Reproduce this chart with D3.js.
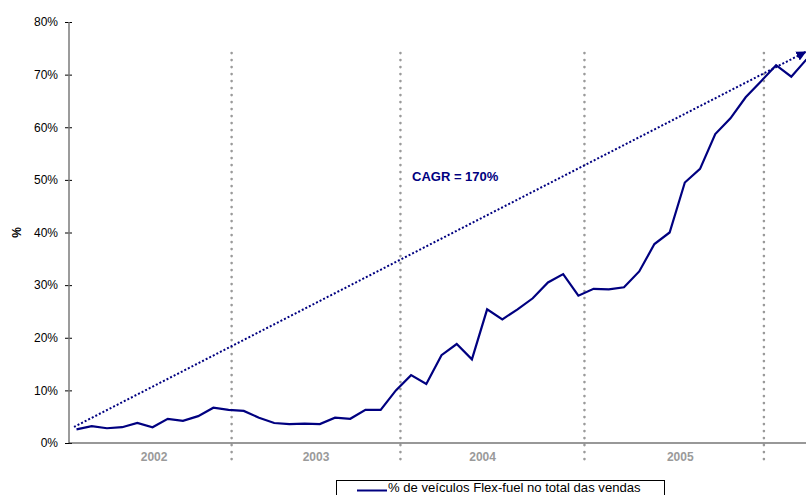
<!DOCTYPE html>
<html>
<head>
<meta charset="utf-8">
<script src="https://cdn.jsdelivr.net/npm/d3@7"></script>
<style>
  body { margin: 0; background: #fff; }
  svg { display: block; font-family: Arial, "Liberation Sans", sans-serif; }
</style>
</head>
<body>
<svg id="chart-svg"></svg>
<script>
// monthly share of flex-fuel vehicles in total sales (%), 2002 -> 2005
const flexShare = [
    2.6, 3.2, 2.8, 3.0, 3.8, 3.0, 4.6, 4.2, 5.1, 6.7,
    6.3, 6.1, 4.8, 3.8, 3.6, 3.7, 3.6, 4.8, 4.6, 6.3,
    6.3, 10.0, 12.9, 11.2, 16.7, 18.8, 15.9, 25.4, 23.5, 25.4,
    27.5, 30.5, 32.1, 28.0, 29.3, 29.2, 29.6, 32.6, 37.8, 40.0,
    49.5, 52.1, 58.7, 61.7, 65.7, 68.7, 71.8, 69.6, 72.9
];
const trendShare = [3.3, 74.3];
const yTicks = [0, 10, 20, 30, 40, 50, 60, 70, 80];
const yearLabels = ['2002', '2003', '2004', '2005'];
const yearLabelAt = [5.1, 15.75, 26.7, 39.7];      // month index of label centre
const yearDividerAt = [10.2, 21.3, 33.4, 45.2];    // month index of dotted dividers
const cagrLabel = 'CAGR = 170%';
const legendLabel = '% de veículos Flex-fuel no total das vendas';

const width = 806, height = 495;
const navy = '#000080';

const svg = d3.select('#chart-svg')
    .attr('width', width)
    .attr('height', height);

const x = d3.scaleLinear().domain([0, flexShare.length - 1]).range([76.5, 806.5]);
const y = d3.scaleLinear().domain([0, 80]).range([443, 22]);
const axisLeft = 69;

svg.append('defs').append('marker')
    .attr('id', 'arrow')
    .attr('viewBox', '0 0 10 10')
    .attr('refX', 9).attr('refY', 5)
    .attr('markerWidth', 5).attr('markerHeight', 5)
    .attr('markerUnits', 'strokeWidth')
    .attr('orient', 'auto')
    .append('path')
    .attr('d', 'M0,0 L10,5 L0,10 z')
    .attr('fill', navy);

// dotted year dividers
svg.append('g')
    .selectAll('line')
    .data(yearDividerAt)
    .join('line')
    .attr('x1', d => x(d)).attr('x2', d => x(d))
    .attr('y1', 53).attr('y2', 465)
    .attr('stroke', '#9a9a9a')
    .attr('stroke-width', 2.6)
    .attr('stroke-linecap', 'round')
    .attr('stroke-dasharray', '0.1,6.9');

// y axis
const yAxis = svg.append('g')
    .attr('transform', `translate(${axisLeft},0)`)
    .call(d3.axisLeft(y).tickValues(yTicks).tickFormat(d => `${d}%`).tickSize(4).tickPadding(7));
yAxis.select('.domain').remove();
yAxis.append('line')
    .attr('x1', 0).attr('x2', 0)
    .attr('y1', y(80)).attr('y2', y(0))
    .attr('stroke', '#7a7a7a').attr('stroke-width', 1.5);
yAxis.selectAll('.tick line').attr('x2', -4).attr('x1', 3).attr('stroke', '#000');
yAxis.selectAll('.tick text')
    .attr('font-size', 12)
    .attr('fill', '#000')
    .attr('font-family', 'Arial, "Liberation Sans", sans-serif');

svg.append('text')
    .attr('transform', `translate(21,${y(40)}) rotate(-90)`)
    .attr('text-anchor', 'middle')
    .attr('font-size', 12)
    .attr('font-weight', 'bold')
    .text('%');

// x axis baseline
svg.append('line')
    .attr('x1', axisLeft).attr('x2', width)
    .attr('y1', y(0)).attr('y2', y(0))
    .attr('stroke', '#333').attr('stroke-width', 1.2);

svg.append('g')
    .selectAll('text')
    .data(yearLabels)
    .join('text')
    .attr('x', (d, i) => x(yearLabelAt[i]))
    .attr('y', 461)
    .attr('text-anchor', 'middle')
    .attr('font-size', 12)
    .attr('font-weight', 'bold')
    .attr('fill', '#9a9a9a')
    .text(d => d);

// trend line with arrow
svg.append('line')
    .attr('x1', x(0) - 2.5).attr('y1', y(trendShare[0]) + 1.3)
    .attr('x2', x(flexShare.length - 1) - 1).attr('y2', y(trendShare[1]))
    .attr('stroke', navy)
    .attr('stroke-width', 2)
    .attr('stroke-dasharray', '2,2')
    .attr('marker-end', 'url(#arrow)');

// main series
const line = d3.line()
    .x((d, i) => x(i))
    .y(d => y(d));

svg.append('path')
    .datum(flexShare)
    .attr('d', line)
    .attr('fill', 'none')
    .attr('stroke', navy)
    .attr('stroke-width', 2.2)
    .attr('stroke-linejoin', 'miter');

svg.append('text')
    .attr('x', 412).attr('y', 180.5)
    .attr('font-size', 13)
    .attr('font-weight', 'bold')
    .attr('fill', navy)
    .text(cagrLabel);

// legend
const legend = svg.append('g');
legend.append('rect')
    .attr('x', 336.5).attr('y', 480.5)
    .attr('width', 328).attr('height', 22)
    .attr('fill', '#fff')
    .attr('stroke', '#000').attr('stroke-width', 1);
legend.append('line')
    .attr('x1', 357).attr('x2', 387)
    .attr('y1', 490.5).attr('y2', 490.5)
    .attr('stroke', navy).attr('stroke-width', 2);
legend.append('text')
    .attr('x', 388).attr('y', 492)
    .attr('font-size', 13.1)
    .attr('fill', '#000')
    .text(legendLabel);
</script>
</body>
</html>
